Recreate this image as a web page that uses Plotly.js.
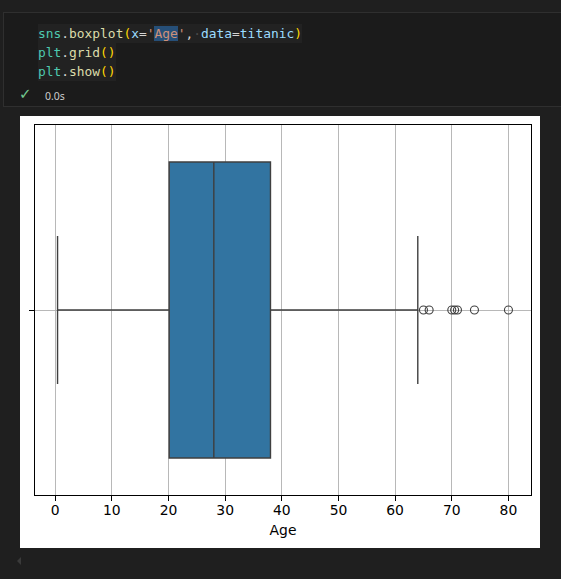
<!DOCTYPE html>
<html>
<head>
<meta charset="utf-8">
<script src="https://cdn.plot.ly/plotly-3.0.1.min.js"></script>
<style>
  html, body { margin:0; padding:0; background:#1f1f1f; width:561px; height:579px; overflow:hidden; }
  #cell { position:absolute; left:3px; top:12px; width:558px; height:95px; background:#1b1b1b;
          border-top:1px solid #2f2f2f; border-bottom:1px solid #2f2f2f; border-left:1px solid #2f2f2f; box-sizing:border-box; }
  .line { position:absolute; left:38px; height:19px; line-height:19px; background:#222222;
          font-family:"DejaVu Sans Mono","Liberation Mono",monospace; font-size:12.9px; white-space:pre; color:#d4d4d4; }
  .mod { color:#4ec9b0; } .fn { color:#dcdcaa; } .br { color:#ffd700; } .var { color:#9cdcfe; }
  .str { color:#ce9178; } .sel { background:#264f78; } .ws { color:#4a4a4a; }
  #chk { position:absolute; left:19px; top:85px; font-family:"DejaVu Sans",sans-serif; font-size:15px; color:#73c991; }
  #time { position:absolute; left:45px; top:89px; font-family:"Noto Sans","DejaVu Sans",sans-serif; font-size:10.5px; color:#cccccc; }
  #fig { position:absolute; left:20px; top:116px; width:520px; height:432px; background:#ffffff; }
  #arrow { position:absolute; left:17px; top:557px; width:0; height:0; border-top:4px solid transparent;
           border-bottom:4px solid transparent; border-right:4px solid #3a3a3a; }
</style>
</head>
<body>
<div id="cell"></div>
<div class="line" style="top:24px;"><span class="mod">sns</span>.<span class="fn">boxplot</span><span class="br">(</span><span class="var">x</span>=<span class="str">'<span class="sel">Age</span>'</span>,<span class="ws">·</span><span class="var">data</span>=<span class="var">titanic</span><span class="br">)</span></div>
<div class="line" style="top:43px;"><span class="mod">plt</span>.<span class="fn">grid</span><span class="br">()</span></div>
<div class="line" style="top:62px;"><span class="mod">plt</span>.<span class="fn">show</span><span class="br">()</span></div>
<div id="chk">✓</div>
<div id="time">0.0s</div>
<div id="fig"></div>
<div id="arrow"></div>
<script>
// Box statistics for Titanic 'Age'
const boxPosition = [0];
const q1 = [20.125];
const median = [28];
const q3 = [38];
const lowerFence = [0.42];
const upperFence = [64];
// Outliers (visible)
const outlierAges = [65, 66, 70, 70.5, 71, 74, 80];
const outlierPos = [0, 0, 0, 0, 0, 0, 0];
// Axis ticks
const xTickVals = [0, 10, 20, 30, 40, 50, 60, 70, 80];
const xTickText = ['0', '10', '20', '30', '40', '50', '60', '70', '80'];

const lineColor = '#3f3f3f';
const font = {family: 'DejaVu Sans, sans-serif', size: 13.9, color: '#000000'};

const traces = [
  {
    type: 'box', orientation: 'h', y: boxPosition,
    q1: q1, median: median, q3: q3, lowerfence: lowerFence, upperfence: upperFence,
    width: 0.8, whiskerwidth: 0.5, boxpoints: false,
    fillcolor: '#3274a1', line: {color: lineColor, width: 1.4},
    hoverinfo: 'skip', showlegend: false
  },
  {
    type: 'scatter', mode: 'markers', x: outlierAges, y: outlierPos,
    marker: {symbol: 'circle-open', size: 8, color: lineColor, line: {width: 1.1, color: lineColor}},
    hoverinfo: 'skip', showlegend: false
  }
];

const layout = {
  width: 520, height: 432,
  margin: {l: 15, r: 9, t: 9, b: 53, pad: 0},
  paper_bgcolor: '#ffffff', plot_bgcolor: '#ffffff',
  font: font,
  xaxis: {
    range: [-3.56, 83.98], tickmode: 'array', tickvals: xTickVals, ticktext: xTickText,
    showgrid: true, gridcolor: '#b0b0b0', gridwidth: 0.9, zeroline: false,
    showline: true, linecolor: '#000000', linewidth: 1.1, mirror: true,
    ticks: 'outside', ticklen: 5, tickwidth: 1, tickcolor: '#000000',
    ticklabelstandoff: -3,
    tickfont: font,
    title: {text: 'Age', font: font, standoff: 8}
  },
  yaxis: {
    range: [0.5, -0.5], tickmode: 'array', tickvals: [0], ticktext: [''],
    showgrid: true, gridcolor: '#b0b0b0', gridwidth: 0.9, zeroline: false,
    showline: true, linecolor: '#000000', linewidth: 1.1, mirror: true,
    ticks: 'outside', ticklen: 5, tickwidth: 1, tickcolor: '#000000'
  }
};

Plotly.newPlot('fig', traces, layout, {displayModeBar: false, staticPlot: true});
</script>
</body>
</html>
